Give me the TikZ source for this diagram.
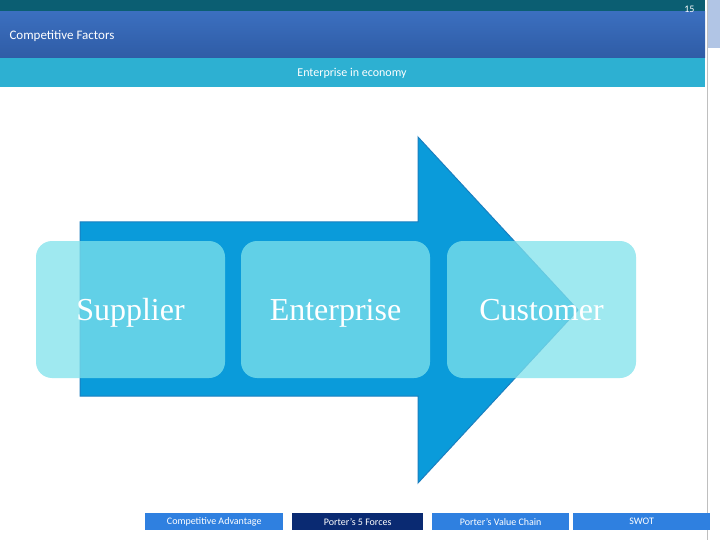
\documentclass[tikz,border=0pt]{standalone}
\usepackage{fontspec}
\setmainfont{Carlito}
\newfontfamily\serifff{Liberation Serif}
\definecolor{topteal}{HTML}{0B5E72}
\definecolor{hbar}{HTML}{3B6FBF}
\definecolor{hbard}{HTML}{2F5CA6}
\definecolor{band}{HTML}{2DB0D2}
\definecolor{arrowc}{HTML}{0A9BDA}
\definecolor{arrowl}{HTML}{1A7FC0}
\definecolor{boxc}{HTML}{7FE2EC}
\definecolor{btn}{HTML}{2F80E0}
\definecolor{btnd}{HTML}{0A2A72}
\begin{document}
\begin{tikzpicture}[x=1pt,y=-1pt,
  box/.style={rounded corners=16pt,fill=boxc,fill opacity=0.75,minimum width=189pt,minimum height=137pt,inner sep=0pt},
  lbl/.style={text=white,font=\serifff\fontsize{32}{32}\selectfont,anchor=base},
  btnbox/.style={fill=#1,text=white,font=\fontsize{10}{10}\selectfont,minimum height=17pt,inner sep=0pt,anchor=north west}]
\useasboundingbox (0,0) rectangle (720,540);
\fill[white] (0,0) rectangle (720,540);
\fill[topteal] (0,0) rectangle (705,14);
\shade[top color=hbar,bottom color=hbard] (0,12) rectangle (705,58);
\fill[band] (0,58) rectangle (705,87);
\fill[hbar!40] (707,0) rectangle (720,48);
\draw[gray!50] (707,0) -- (707,540);
\node[anchor=west,text=white,font=\fontsize{13}{13}\selectfont] (title) at (6,36) {Competitive Factors};
\node[text=white,font=\fontsize{12}{12}\selectfont] (sub) at (352,73) {Enterprise in economy};
\node[text=white,font=\fontsize{10}{10}\selectfont,anchor=east] (num) at (698,9) {15};
\draw[arrowl,fill=arrowc,line width=1pt] (80,222) -- (418,222) -- (418,137) -- (578,310) -- (418,483) -- (418,396) -- (80,396) -- cycle;
\node[box] (s) at (130.5,309.5) {};
\node[box] (e) at (335.5,309.5) {};
\node[box] (c) at (541.5,309.5) {};
\node[lbl] (st) at (130.5,320) {Supplier};
\node[lbl] (et) at (335.5,320) {Enterprise};
\node[lbl] (ct) at (541.5,320) {Customer};
\node[btnbox=btn,minimum width=138pt] (b1) at (145,513) {Competitive Advantage};
\node[btnbox=btnd,minimum width=131pt] (b2) at (292,513) {Porter’s 5 Forces};
\node[btnbox=btn,minimum width=137pt] (b3) at (432,513) {Porter’s Value Chain};
\node[btnbox=btn,minimum width=137pt] (b4) at (573,513) {SWOT};
\end{tikzpicture}
\end{document}
